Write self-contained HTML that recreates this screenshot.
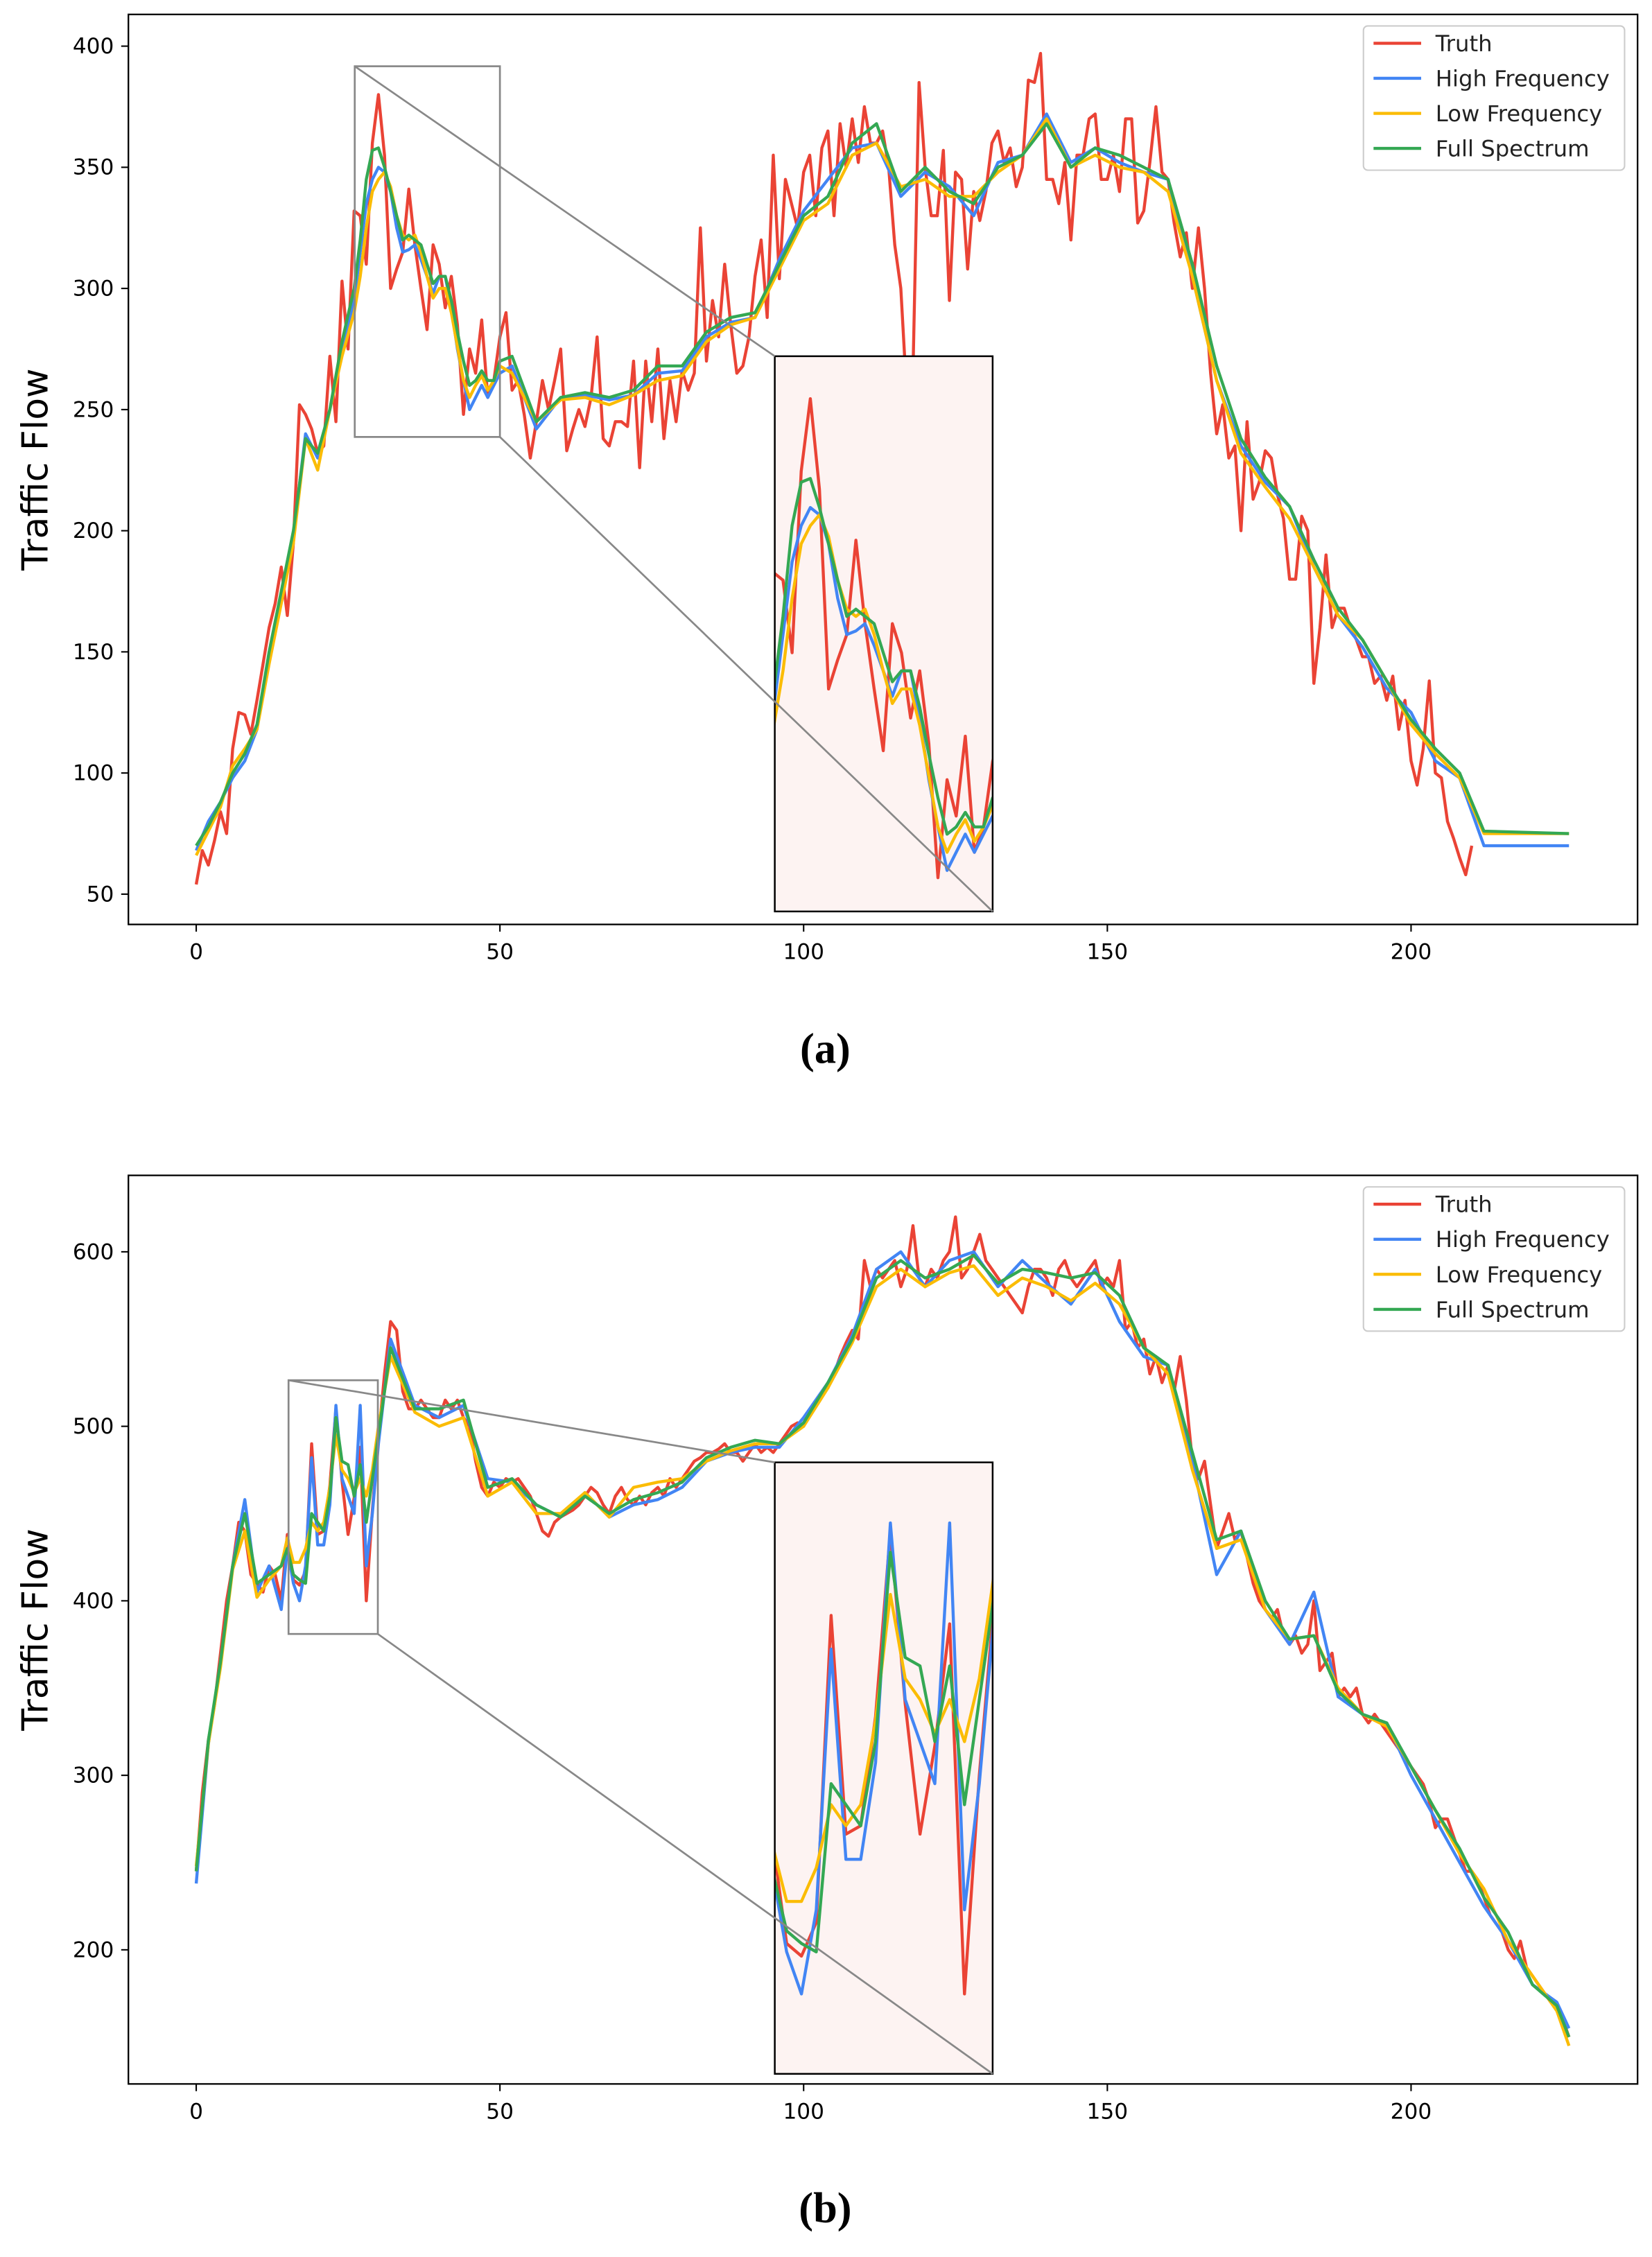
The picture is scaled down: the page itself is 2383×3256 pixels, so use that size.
<!DOCTYPE html>
<html><head><meta charset="utf-8">
<style>
html,body{margin:0;padding:0;background:#fff;width:2383px;height:3256px;overflow:hidden;}
svg{display:block;position:absolute;left:0;top:0;}
text{font-family:"DejaVu Sans","Liberation Sans",sans-serif;}
</style></head>
<body>
<svg id="fig" width="2383" height="3256" viewBox="0 0 1145 1565" preserveAspectRatio="none" overflow="hidden" xmlns="http://www.w3.org/2000/svg">
<rect width="1145" height="1565" fill="#fff"/>
</svg>
<script>
// ---------- DATA: panel (a) ----------
const aTruth = [54,68,62,72,84,75,110,125,124,116,130,145,160,170,185,165,195,252,248,242,232,235,272,245,303,275,332,330,310,360,380,355,300,308,315,341,318,300,283,318,310,292,305,285,248,275,265,287,255,262,280,290,258,262,248,230,245,262,250,262,275,233,242,250,243,255,280,238,235,245,245,243,270,226,270,245,275,238,262,245,266,258,265,325,270,295,280,310,285,265,268,280,305,320,288,355,304,345,335,325,348,355,330,358,365,330,368,350,370,352,375,360,360,365,350,318,300,255,265,385,350,330,330,357,295,348,345,308,340,328,340,360,365,352,358,342,350,386,385,397,345,345,335,352,320,355,355,370,372,345,345,355,340,370,370,327,332,352,375,348,345,327,313,323,300,325,300,265,240,252,230,235,200,245,213,220,233,230,215,205,180,180,206,200,137,160,190,160,168,168,160,155,148,148,137,140,130,140,118,130,105,95,110,138,100,98,80,73,65,58,70];
const aSmoothX = [0,2,4,6,8,10,12,14,16,18,20,22,24,26,27,28,29,30,31,32,33,34,35,36,37,38,39,40,41,42,43,44,45,46,47,48,49,50,52,56,60,64,68,72,76,80,84,88,92,96,100,104,108,112,116,120,124,128,132,136,140,144,148,152,156,160,164,168,172,176,180,184,188,192,196,200,204,208,212,226];
const aFull = [70,78,88,100,108,120,150,175,200,238,232,250,278,300,320,345,357,358,350,340,330,320,322,320,318,310,302,305,305,295,282,270,260,262,266,262,262,270,272,245,255,257,255,258,268,268,282,288,290,310,330,338,360,368,340,350,340,335,350,355,368,350,358,355,350,345,310,268,238,222,210,188,168,155,138,122,110,100,76,75];
const aHigh = [68,80,88,98,105,118,148,172,198,240,230,250,275,295,315,335,345,350,348,340,325,315,316,318,312,305,298,305,305,292,275,262,250,255,260,255,260,265,268,242,255,256,254,256,265,266,280,286,288,312,332,345,358,360,338,348,342,330,352,355,372,352,358,352,348,345,305,262,235,220,210,185,165,152,135,125,105,98,70,70];
const aLow = [66,76,86,103,110,118,145,170,195,238,225,250,272,290,305,325,340,345,348,342,330,322,320,322,315,305,296,300,300,290,276,262,255,260,264,258,262,268,265,245,254,255,252,256,262,264,278,285,288,308,328,335,355,360,342,345,338,338,348,355,370,350,355,350,348,340,305,262,232,218,205,185,165,155,138,120,108,98,75,75];
const aYTicks = [50,100,150,200,250,300,350,400];
// ---------- DATA: panel (b) ----------
const bTruth = [245,290,320,340,370,400,420,445,440,415,410,405,420,415,400,438,412,409,417,490,438,440,466,510,469,438,459,488,400,452,493,530,560,555,520,510,510,515,510,505,505,515,510,515,505,500,480,465,460,468,465,470,468,470,465,460,450,440,437,445,448,450,452,455,460,465,462,455,450,460,465,458,455,460,455,462,465,460,470,465,470,475,480,482,485,485,487,490,485,485,480,485,490,485,488,485,490,495,500,502,500,508,512,518,522,530,540,548,555,550,595,580,590,585,590,595,580,590,615,585,580,590,585,595,600,620,585,590,600,610,595,590,585,580,575,570,565,580,590,590,585,575,590,595,585,580,585,590,595,580,585,580,595,555,560,545,550,530,540,525,535,520,540,515,480,470,480,455,430,440,450,435,440,425,410,400,395,390,395,380,375,380,370,375,400,360,365,370,345,350,345,350,335,330,335,330,325,320,315,310,305,300,295,285,270,275,275,265,255,245,245,240,230,220,215,210,200,195,205,190,185,180,175,170,168,160,150];
const bSmoothX = [0,2,4,6,8,10,12,14,15,16,17,18,19,20,21,22,23,24,25,26,27,28,29,30,32,36,40,44,48,52,56,60,64,68,72,76,80,84,88,92,96,100,104,108,112,116,120,124,128,132,136,140,144,148,152,156,160,164,168,172,176,180,184,188,192,196,200,204,208,212,216,220,224,226];
const bFull = [245,320,365,420,450,410,415,420,430,415,412,410,450,445,440,460,505,480,478,460,478,445,470,495,545,510,510,515,465,470,455,448,460,450,458,462,468,482,488,492,490,502,525,550,585,595,585,590,598,582,590,588,585,588,575,545,535,485,435,440,400,378,380,348,335,330,305,280,258,230,210,180,168,150];
const bHigh = [238,318,365,420,458,405,420,395,430,410,400,420,482,432,432,455,512,470,460,450,512,420,450,490,550,512,505,512,470,468,455,448,462,448,455,458,465,480,485,488,488,505,525,552,590,600,580,595,600,580,595,582,570,590,560,540,535,480,415,440,395,375,405,345,335,330,300,275,250,225,205,180,170,155];
const bLow = [248,318,362,418,440,402,412,420,436,422,422,430,445,440,445,465,495,475,470,462,470,460,475,500,540,508,500,505,460,468,450,450,462,448,465,468,470,480,486,490,490,500,522,548,580,590,580,588,592,575,585,580,572,582,570,545,530,475,430,435,395,378,380,350,335,328,305,280,255,235,205,185,165,145];
const bYTicks = [200,300,400,500,600];
const xTicks = [0,50,100,150,200];

const COL = {truth:'#ea4335', high:'#4285f4', low:'#fbbc04', full:'#34a853'};
const NS = 'http://www.w3.org/2000/svg';
const svg = document.getElementById('fig');
function mk(tag, attrs, parent){
  const e = document.createElementNS(NS, tag);
  for (const k in attrs) e.setAttribute(k, attrs[k]);
  (parent||svg).appendChild(e); return e;
}
function linScale(d0,d1,r0,r1){return v => r0 + (v-d0)*(r1-r0)/(d1-d0);}

function drawSeries(g, xs, ys, sx, sy, color, name, w, xmin, xmax){
  let d=''; let first=true;
  for (let i=0;i<ys.length;i++){
    if (xmin!==undefined){
      const nextIn = i+1<xs.length && xs[i+1]>=xmin;
      const prevIn = i>0 && xs[i-1]<=xmax;
      const inR = xs[i]>=xmin && xs[i]<=xmax;
      if (!(inR || (xs[i]<xmin && nextIn) || (xs[i]>xmax && prevIn))) continue;
    }
    d += (first?'M':'L') + sx(xs[i]).toFixed(2)+','+sy(ys[i]).toFixed(2); first=false;
  }
  const p = mk('path',{d:d,fill:'none',stroke:color,'stroke-width':w,'stroke-linejoin':'round'},g);
  
  
}

function panel(cfg){
  const {id, top, bottom, yv0, yp0, yv1, yp1, truth, sx_, full, high, low, yticks, box, inset, caption, capY} = cfg;
  const L=89, R=1135;
  const sx = linScale(0,50,136,346.5);
  const sy = linScale(yv0,yv1,yp0,yp1);
  const g = mk('g',{});
  
  
  const cp = mk('clipPath',{id:id+'clip'},g); mk('rect',{x:L,y:top,width:R-L,height:bottom-top},cp);
  const truthX = truth.map((v,i)=>i);
  const lines = mk('g',{'clip-path':'url(#'+id+'clip)'},g);
  
  
  drawSeries(lines, truthX, truth, sx, sy, COL.truth, 'truth-line', 2.1);
  drawSeries(lines, sx_, high, sx, sy, COL.high, 'high-frequency-line', 2.1);
  drawSeries(lines, sx_, low, sx, sy, COL.low, 'low-frequency-line', 2.1);
  drawSeries(lines, sx_, full, sx, sy, COL.full, 'full-spectrum-line', 2.1);
  const bx0=sx(box.x0), bx1=sx(box.x1), by0=sy(box.y1), by1=sy(box.y0);
  const zb = mk('rect',{x:bx0,y:by0,width:bx1-bx0,height:by1-by0,fill:'none',stroke:'#888','stroke-width':1.3},g);
  
  
  const ig = mk('g',{},g);
  
  
  mk('rect',{x:inset.x0,y:inset.y0,width:inset.x1-inset.x0,height:inset.y1-inset.y0,fill:'#fdf3f2'},ig);
  const icp = mk('clipPath',{id:id+'iclip'},ig); mk('rect',{x:inset.x0,y:inset.y0,width:inset.x1-inset.x0,height:inset.y1-inset.y0},icp);
  const isx = linScale(box.x0,box.x1,inset.x0,inset.x1);
  const isy = linScale(box.y0,box.y1,inset.y1,inset.y0);
  const il = mk('g',{'clip-path':'url(#'+id+'iclip)'},ig);
  drawSeries(il, truthX, truth, isx, isy, COL.truth, 'inset-truth-line', 2.1, box.x0, box.x1);
  drawSeries(il, sx_, high, isx, isy, COL.high, 'inset-high-frequency-line', 2.1, box.x0, box.x1);
  drawSeries(il, sx_, low, isx, isy, COL.low, 'inset-low-frequency-line', 2.1, box.x0, box.x1);
  drawSeries(il, sx_, full, isx, isy, COL.full, 'inset-full-spectrum-line', 2.1, box.x0, box.x1);
  mk('line',{x1:bx0,y1:by0,x2:inset.x0,y2:inset.y0,stroke:'#888','stroke-width':1.3},g);
  mk('line',{x1:bx1,y1:by1,x2:inset.x1,y2:inset.y1,stroke:'#888','stroke-width':1.3},g);
  mk('rect',{x:inset.x0,y:inset.y0,width:inset.x1-inset.x0,height:inset.y1-inset.y0,fill:'none',stroke:'#000','stroke-width':1.2},ig);
  const fr = mk('rect',{x:L,y:top,width:R-L,height:bottom-top,fill:'none',stroke:'#000','stroke-width':1.1},g);
  
  
  xTicks.forEach(t=>{
    const x=sx(t);
    mk('line',{x1:x,y1:bottom,x2:x,y2:bottom+5,stroke:'#000','stroke-width':1},g);
    const tx = mk('text',{x:x,y:bottom+24,'font-size':15,'text-anchor':'middle',fill:'#000'},g);
    tx.textContent=t;
    
    
  });
  yticks.forEach(t=>{
    const y=sy(t);
    mk('line',{x1:L-5,y1:y,x2:L,y2:y,stroke:'#000','stroke-width':1},g);
    const tx = mk('text',{x:L-10,y:y+5,'font-size':15,'text-anchor':'end',fill:'#000'},g);
    tx.textContent=t;
    
    
  });
  const yl = mk('text',{x:33,y:(top+bottom)/2,'font-size':25,'text-anchor':'middle',transform:'rotate(-90 33 '+((top+bottom)/2)+')',fill:'#000'},g);
  yl.textContent='Traffic Flow';
  
  
  const lg = mk('g',{},g);
  
  
  mk('rect',{x:945,y:top+8,width:181,height:100,rx:3,fill:'#fff',stroke:'#ccc','stroke-width':1},lg);
  [['Truth',COL.truth],['High Frequency',COL.high],['Low Frequency',COL.low],['Full Spectrum',COL.full]].forEach((e,i)=>{
    const y=top+20+i*24.3;
    const ent = mk('g',{},lg);
    
    
    mk('line',{x1:952,y1:y,x2:985,y2:y,stroke:e[1],'stroke-width':2.1},ent);
    const t = mk('text',{x:995,y:y+5.5,'font-size':15.5,fill:'#222'},ent);
    t.textContent=e[0];
  });
  const cap = mk('text',{x:572,y:capY,'font-size':30,'font-weight':'bold','text-anchor':'middle',fill:'#000',style:'font-family:"Liberation Serif",serif'},g);
  cap.textContent=caption;
  
  
}

panel({id:'a',top:10,bottom:641,yv0:400,yp0:32,yv1:50,yp1:620,truth:aTruth,sx_:aSmoothX,full:aFull,high:aHigh,low:aLow,yticks:aYTicks,
  box:{x0:26.1,x1:50,y0:238.7,y1:391.7},inset:{x0:537,y0:247,x1:688,y1:632},caption:'(a)',capY:737});
panel({id:'b',top:815,bottom:1445,yv0:600,yp0:868,yv1:200,yp1:1352,truth:bTruth,sx_:bSmoothX,full:bFull,high:bHigh,low:bLow,yticks:bYTicks,
  box:{x0:15.2,x1:29.9,y0:381,y1:526.4},inset:{x0:537,y0:1014,x1:688,y1:1438},caption:'(b)',capY:1541});
</script>
</body></html>
